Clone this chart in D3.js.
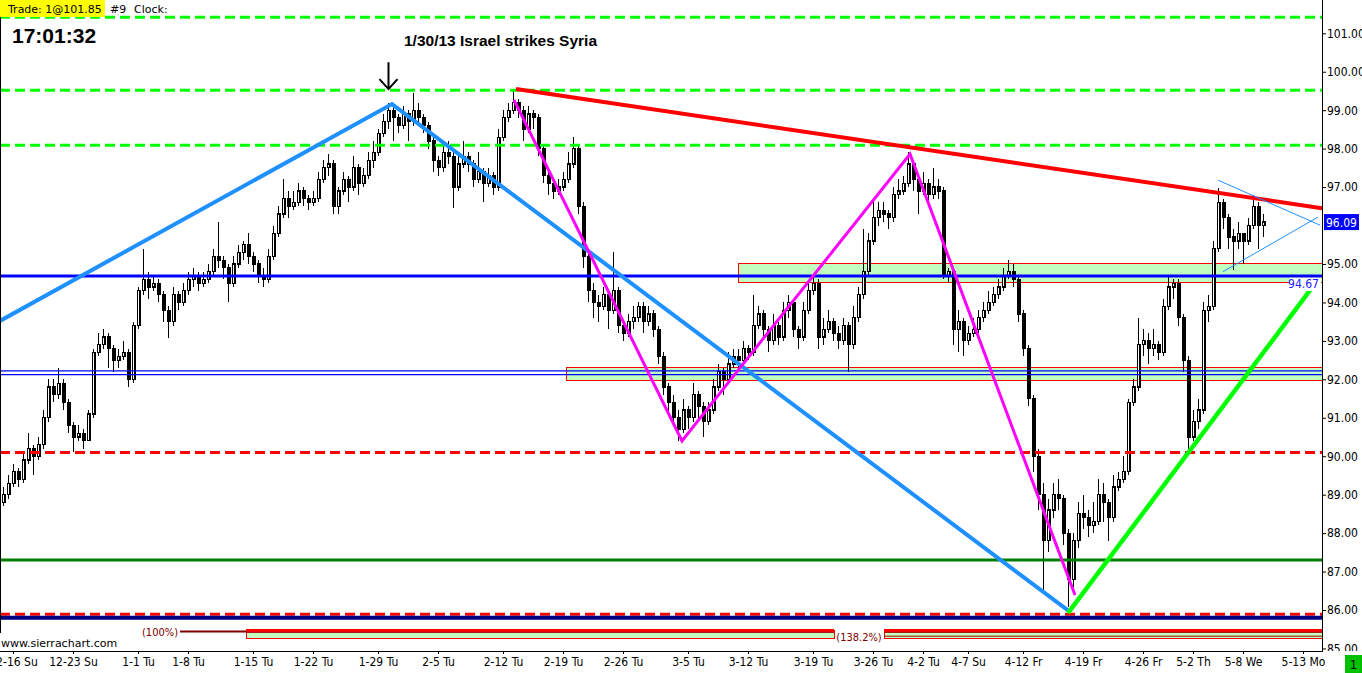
<!DOCTYPE html>
<html>
<head>
<meta charset="utf-8">
<script src="https://cdn.jsdelivr.net/npm/d3@7"></script>
<style>
  body { margin: 0; background: #fff; overflow: hidden; }
  svg { display: block; }
</style>
</head>
<body>
<div id="chart"></div>
<script>
// candle closes, one per bar (open = previous close)
var closes = [
  89.0, 89.3, 89.6, 89.4, 89.9, 90.2, 90.0, 90.3, 91.0, 91.8,
  91.6, 91.9, 91.4, 90.8, 90.5, 90.6, 90.4, 91.1, 92.7, 92.9,
  93.1, 92.8, 92.5, 92.6, 92.7, 92.0, 93.4, 94.3, 94.6, 94.4,
  94.5, 94.2, 93.8, 93.5, 94.2, 94.0, 94.3, 94.6, 94.7, 94.5,
  94.6, 94.8, 95.2, 95.1, 94.9, 94.5, 95.0, 95.3, 95.5, 95.2,
  95.0, 94.7, 94.6, 95.2, 95.8, 96.3, 96.7, 96.5, 96.6, 96.9,
  96.7, 96.6, 96.7, 97.2, 97.5, 97.6, 96.5, 96.9, 97.2, 97.0,
  97.5, 97.1, 97.3, 97.7, 97.9, 98.4, 98.7, 99.0, 98.8, 98.6,
  98.9, 98.7, 99.0, 98.8, 98.6, 98.2, 97.7, 97.5, 97.9, 97.8,
  97.0, 97.6, 97.8, 97.6, 97.2, 97.4, 97.1, 97.3, 97.0, 98.3,
  98.8, 99.0, 99.2, 99.0, 98.5, 98.9, 98.8, 98.0, 97.3, 97.1,
  96.9, 97.0, 97.2, 97.6, 98.0, 96.5, 95.2, 94.3, 94.0, 93.9,
  94.2, 93.8, 94.3, 93.4, 93.2, 93.5, 93.6, 93.9, 93.5, 93.7,
  93.3, 92.6, 91.8, 91.4, 91.0, 90.7, 91.2, 91.0, 91.6, 91.3,
  90.9, 91.2, 91.8, 92.2, 92.0, 92.4, 92.6, 92.5, 92.8, 92.7,
  93.4, 93.7, 93.3, 93.0, 93.4, 93.1, 93.8, 94.0, 93.3, 93.1,
  93.8, 94.3, 94.5, 93.1, 93.3, 93.5, 93.2, 93.0, 93.4, 92.9,
  93.6, 94.2, 94.8, 95.6, 96.2, 96.4, 96.3, 96.2, 96.8, 96.9,
  97.1, 97.6, 97.2, 96.9, 97.1, 96.8, 97.0, 96.9, 94.7, 94.8,
  93.3, 93.5, 93.0, 93.2, 93.3, 93.6, 93.8, 94.0, 94.2, 94.4,
  94.7, 94.8, 94.6, 93.7, 92.8, 91.5, 90.0, 89.0, 87.8, 88.6,
  89.0, 88.9, 88.0, 86.8, 87.8, 88.5, 88.4, 88.2, 88.3, 89.0,
  88.8, 88.4, 89.2, 89.4, 89.6, 91.4, 91.8, 92.9, 93.0, 92.8,
  92.9, 92.7, 93.9, 94.4, 94.5, 93.6, 92.5, 90.5, 90.9, 91.2,
  93.8, 93.9, 95.4, 96.6, 96.2, 95.7, 95.6, 95.8, 95.6, 96.0,
  96.5, 96.0, 96.09
];
var firstOpen = 88.8;

var highs = [
  89.2, 89.5, 89.8, 89.7, 90.1, 90.6, 90.3, 90.5, 91.2, 92.0,
  92.0, 92.3, 92.0, 91.5, 90.9, 90.8, 90.7, 91.2, 92.8, 93.2,
  93.3, 93.2, 92.9, 92.8, 93.0, 92.8, 93.5, 94.4, 95.4, 94.8,
  94.7, 94.6, 94.3, 93.9, 94.4, 94.3, 94.5, 94.8, 94.9, 94.8,
  94.8, 95.0, 95.4, 96.1, 95.2, 95.0, 95.2, 95.5, 95.6, 95.8,
  95.3, 95.1, 94.9, 95.4, 96.0, 96.5, 97.2, 96.9, 96.9, 97.1,
  97.0, 96.8, 96.9, 97.4, 97.7, 97.85, 97.7, 97.0, 97.4, 97.3,
  97.8, 97.6, 97.5, 97.9, 98.2, 98.5, 98.9, 99.2, 99.1, 98.9,
  99.1, 99.0, 99.45, 99.2, 98.9, 98.7, 98.3, 97.8, 98.1, 98.2,
  97.9, 97.8, 98.2, 97.9, 97.7, 97.9, 97.5, 97.5, 97.4, 98.5,
  99.0, 99.2, 99.5, 99.3, 99.1, 99.1, 99.0, 98.9, 98.1, 97.4,
  97.2, 97.2, 97.4, 97.9, 98.3, 98.1, 96.6, 95.3, 94.5, 94.2,
  94.4, 94.3, 95.3, 94.4, 93.5, 93.7, 93.9, 94.0, 94.0, 93.9,
  93.8, 93.4, 92.7, 91.9, 91.6, 91.2, 91.5, 91.3, 91.9, 91.7,
  91.4, 91.4, 92.0, 92.4, 92.3, 92.7, 92.8, 92.8, 93.0, 92.9,
  94.2, 93.9, 93.8, 93.4, 93.7, 93.5, 94.0, 94.2, 94.1, 93.4,
  94.0, 94.5, 94.7, 94.6, 93.6, 93.8, 93.6, 93.4, 93.6, 93.5,
  93.9, 94.4, 95.9, 95.8, 96.6, 96.6, 96.6, 96.4, 97.0, 97.2,
  97.3, 97.9, 97.7, 97.3, 97.4, 97.2, 97.5, 97.2, 97.0, 94.9,
  94.9, 93.8, 93.6, 93.4, 93.6, 93.8, 94.0, 94.3, 94.4, 94.6,
  94.9, 95.1, 95.0, 94.7, 93.8, 92.9, 91.6, 90.2, 89.3, 88.9,
  89.3, 89.4, 89.0, 88.1, 88.0, 88.8, 89.0, 88.6, 88.8, 89.4,
  89.3, 88.9, 89.5, 89.6, 90.0, 91.5, 92.0, 93.6, 93.3, 93.2,
  93.3, 93.0, 94.1, 94.65, 94.6, 94.6, 93.7, 92.6, 91.2, 91.5,
  94.0, 94.2, 95.6, 96.97, 96.7, 96.3, 95.9, 96.1, 95.8, 96.2,
  96.8, 96.6, 96.3
];

var lows = [
  88.7, 88.9, 89.2, 89.2, 89.3, 89.8, 89.5, 89.9, 90.2, 90.9,
  91.4, 91.5, 91.2, 90.6, 90.1, 90.4, 90.2, 90.4, 91.0, 92.6,
  92.8, 92.3, 92.2, 92.3, 92.5, 91.8, 91.9, 93.3, 94.2, 94.1,
  94.3, 94.0, 93.5, 93.07, 93.4, 93.8, 93.9, 94.2, 94.4, 94.3,
  94.4, 94.5, 94.7, 94.9, 94.6, 94.0, 94.4, 94.9, 95.1, 95.0,
  94.8, 94.5, 94.4, 94.5, 95.1, 95.7, 96.2, 96.2, 96.4, 96.5,
  96.5, 96.4, 96.5, 96.6, 97.1, 97.3, 96.3, 96.3, 96.8, 96.6,
  96.9, 96.8, 97.0, 97.2, 97.5, 97.8, 98.3, 98.5, 98.2, 98.4,
  98.5, 98.2, 98.6, 98.6, 98.4, 98.0, 97.4, 97.3, 97.4, 97.6,
  96.45, 96.9, 97.5, 97.4, 97.0, 97.1, 96.6, 97.0, 96.8, 96.9,
  98.2, 98.7, 98.9, 98.8, 98.2, 98.4, 98.5, 97.8, 97.1, 96.8,
  96.7, 96.8, 96.9, 97.1, 97.5, 96.3, 94.9, 94.0, 93.6, 93.5,
  93.8, 93.3, 93.7, 93.2, 93.0, 93.1, 93.3, 93.5, 93.2, 93.4,
  93.1, 92.4, 91.6, 91.1, 90.8, 90.4, 90.6, 90.7, 90.9, 91.0,
  90.5, 90.8, 91.1, 91.7, 91.6, 91.9, 92.3, 92.2, 92.4, 92.5,
  92.6, 93.3, 93.1, 92.7, 92.9, 92.9, 93.0, 93.6, 93.1, 92.8,
  93.0, 93.7, 94.2, 92.8, 92.9, 93.2, 93.0, 92.8, 92.9, 92.2,
  92.8, 93.5, 94.1, 94.7, 95.5, 96.0, 96.1, 95.9, 96.1, 96.7,
  96.8, 97.0, 96.9, 96.3, 96.8, 96.6, 96.7, 96.7, 94.6, 94.5,
  92.9, 92.7, 92.6, 92.9, 93.1, 93.2, 93.5, 93.7, 93.9, 94.1,
  94.3, 94.6, 94.4, 93.5, 92.6, 91.3, 89.6, 88.6, 86.5, 87.5,
  88.4, 88.6, 87.7, 86.08, 86.6, 87.6, 88.1, 87.9, 88.0, 88.2,
  88.3, 87.8, 88.3, 89.1, 89.3, 89.5, 91.3, 91.7, 92.6, 92.4,
  92.6, 92.5, 92.6, 93.8, 94.1, 93.4, 92.2, 90.2, 90.4, 90.7,
  91.1, 93.5, 93.8, 95.3, 95.9, 95.4, 94.85, 95.4, 95.0, 95.5,
  95.9, 95.4, 95.7
];

// x axis: bar index of each date label
var dateTickIdx = [2, 14, 27, 37, 50, 62, 75, 87, 100, 112, 124, 137, 149,
                   162, 174, 184, 193, 204, 216, 228, 238, 248, 260];
var dateTickLabels = ["12-16 Su", "12-23 Su", "1-1 Tu", "1-8 Tu", "1-15 Tu", "1-22 Tu",
                      "1-29 Tu", "2-5 Tu", "2-12 Tu", "2-19 Tu", "2-26 Tu", "3-5 Tu",
                      "3-12 Tu", "3-19 Tu", "3-26 Tu", "4-2 Tu", "4-7 Su", "4-12 Fr",
                      "4-19 Fr", "4-26 Fr", "5-2 Th", "5-8 We", "5-13 Mo"];
// 96.00 sits under the last price tag, so it is not listed
var priceTicks = [85, 86, 87, 88, 89, 90, 91, 92, 93, 94, 95, 97, 98, 99, 100, 101];

// horizontal levels
var greenDashLevels = [101.42, 99.52, 98.09];
var redDashLevels = [90.10, 85.89];
var navyLevel = 85.80;
var greenLevel = 87.30;
var blueLevel = 94.69;
var thinBlueLevels = [92.22, 92.12];

// drawn trend lines, [bar index, price]
var blueTrend = [[-0.6, 93.52], [77.8, 99.16], [213, 85.99]];
var magentaTrend = [[102.2, 99.27], [135.8, 90.40], [181.4, 97.86], [214.4, 86.39]];
var redTrend = [[102.6, 99.55], [263.8, 96.45]];
var greenTrend = [[213, 85.92], [261.6, 94.35]];
var triUpper = [[243, 97.18], [263.4, 96.01]];
var triLower = [[244, 94.80], [263, 96.22]];

// supply / demand zones
var zoneStart = [147, 112.6];
var zoneEnd = [263.8, 263.8];
var zoneTop = [95.00, 92.31];
var zoneBottom = [94.53, 91.97];

// fib extension boxes at the bottom
var fibStart = [48.6, 176.2];
var fibEnd = [166.2, 263.8];
var fibTop = 85.47, fibMid = 85.32, fibBottom = 85.25;
var fib100Start = 35.4, fib100Price = 85.44;

var lastPrice = 96.09;
var levelLabel = 94.67;

var W = 1362, H = 673, plotR = 1322, plotB = 651;

var x = d3.scaleLinear().domain([0, 252]).range([3, 1263]);
var y = d3.scaleLinear().domain([84.934, 101.866]).range([plotB, 0]);

var svg = d3.select("#chart").append("svg")
    .attr("width", W)
    .attr("height", H)
    .style("font-family", "'DejaVu Sans Condensed', 'DejaVu Sans', sans-serif");

var defs = svg.append("defs");
defs.append("clipPath").attr("id", "plot")
  .append("rect").attr("x", 0).attr("y", 0).attr("width", plotR).attr("height", plotB);
// used inside the translated y axis group, so it starts at 0
defs.append("clipPath").attr("id", "yaxis")
  .append("rect").attr("x", 0).attr("y", 0).attr("width", W - plotR).attr("height", plotB);

var plot = svg.append("g").attr("clip-path", "url(#plot)");

// zones under the price bars
zoneStart.forEach(function(s, i){
  plot.append("rect")
    .attr("x", x(s))
    .attr("y", y(zoneTop[i]))
    .attr("width", x(zoneEnd[i]) - x(s))
    .attr("height", y(zoneBottom[i]) - y(zoneTop[i]))
    .attr("fill", "#c0ffc0")
    .attr("stroke", "#ff0000")
    .attr("stroke-width", 1)
    .attr("shape-rendering", "crispEdges");
});

fibStart.forEach(function(s, i){
  plot.append("rect")
    .attr("x", x(s))
    .attr("y", y(fibTop))
    .attr("width", x(fibEnd[i]) - x(s))
    .attr("height", y(fibBottom) - y(fibTop))
    .attr("fill", "#c0ffc0")
    .attr("stroke", "#ff0000")
    .attr("stroke-width", 1)
    .attr("shape-rendering", "crispEdges");
  plot.append("line")
    .attr("x1", x(s)).attr("x2", x(fibEnd[i]))
    .attr("y1", y(fibTop)).attr("y2", y(fibTop))
    .attr("stroke", "#ff0000").attr("stroke-width", 3);
  plot.append("line")
    .attr("x1", x(s)).attr("x2", x(fibEnd[i]))
    .attr("y1", y(fibTop) + 2).attr("y2", y(fibTop) + 2)
    .attr("stroke", "#a00000").attr("stroke-width", 1);
  if (i == 1) {
    plot.append("line")
      .attr("x1", x(s)).attr("x2", x(fibEnd[i]))
      .attr("y1", y(fibMid)).attr("y2", y(fibMid))
      .attr("stroke", "#a00000").attr("stroke-width", 1);
  }
});
plot.append("line")
  .attr("x1", x(fib100Start)).attr("x2", x(fibStart[0]))
  .attr("y1", y(fib100Price)).attr("y2", y(fib100Price))
  .attr("stroke", "#800000").attr("stroke-width", 2);

// candles
var candles = plot.append("g").attr("shape-rendering", "crispEdges");
closes.forEach(function(c, i){
  var o = i == 0 ? firstOpen : closes[i - 1];
  var cx = Math.round(x(i));
  candles.append("line")
    .attr("x1", cx + 0.5).attr("x2", cx + 0.5)
    .attr("y1", y(highs[i])).attr("y2", y(lows[i]))
    .attr("stroke", "#000").attr("stroke-width", 1);
  var top = y(Math.max(o, c)), bot = y(Math.min(o, c));
  candles.append("rect")
    .attr("x", cx - 0.5)
    .attr("y", top)
    .attr("width", 2.5)
    .attr("height", Math.max(1, bot - top))
    .attr("fill", c >= o ? "#fff" : "#000")
    .attr("stroke", "#000")
    .attr("stroke-width", 1.2);
});

// horizontal levels
function hline(price, color, width, dash){
  var l = plot.append("line")
    .attr("x1", 0).attr("x2", plotR)
    .attr("y1", y(price)).attr("y2", y(price))
    .attr("stroke", color)
    .attr("stroke-width", width);
  if (dash) l.attr("stroke-dasharray", dash);
}
greenDashLevels.forEach(function(p){ hline(p, "#00ff00", 3, "10,5"); });
redDashLevels.forEach(function(p){ hline(p, "#ff0000", 3, "10,5"); });
hline(navyLevel, "#000080", 4);
hline(greenLevel, "#008000", 3);
hline(blueLevel, "#0000ff", 3);
thinBlueLevels.forEach(function(p){ hline(p, "#0000ff", 1.3); });

// trend lines
var line = d3.line().x(function(d){ return x(d[0]); }).y(function(d){ return y(d[1]); });
function trend(pts, color, width){
  plot.append("path")
    .attr("d", line(pts))
    .attr("fill", "none")
    .attr("stroke", color)
    .attr("stroke-width", width)
    .attr("stroke-linejoin", "miter");
}
trend(blueTrend, "#1e90ff", 4);
trend(redTrend, "#ff0000", 4);
trend(magentaTrend, "#ff00ff", 3);
trend(greenTrend, "#00ff00", 4.5);
trend(triUpper, "#1e90ff", 1);
trend(triLower, "#1e90ff", 1);

// labels on the bottom boxes
svg.append("text")
  .attr("x", x(fib100Start) - 2).attr("y", y(fib100Price) + 4)
  .attr("text-anchor", "end")
  .attr("font-size", 11).attr("fill", "#800000")
  .text("(100%)");
svg.append("text")
  .attr("x", (x(fibEnd[0]) + x(fibStart[1])) / 2).attr("y", y(fibMid) + 5)
  .attr("text-anchor", "middle")
  .attr("font-size", 11).attr("fill", "#800000")
  .text("(138.2%)");

// event arrow and note
var ax = Math.round(x(77)) + 0.5;
svg.append("path")
  .attr("d", "M" + ax + "," + y(100.25) + "V" + y(99.55) +
             "M" + (ax - 9) + "," + (y(99.55) - 10) + "L" + ax + "," + y(99.55) +
             "L" + (ax + 9) + "," + (y(99.55) - 10))
  .attr("fill", "none").attr("stroke", "#000").attr("stroke-width", 2);
svg.append("text")
  .attr("x", 404).attr("y", 46)
  .attr("font-family", "'Liberation Sans Narrow', 'Liberation Sans', sans-serif")
  .attr("font-weight", "bold").attr("font-size", 15.5)
  .text("1/30/13 Israel strikes Syria");

// left border
svg.append("line")
  .attr("x1", 0.5).attr("x2", 0.5).attr("y1", 0).attr("y2", 633)
  .attr("stroke", "#000").attr("stroke-width", 1);

// y axis
var yAxis = svg.append("g")
  .attr("transform", "translate(" + plotR + ",0)")
  .attr("clip-path", "url(#yaxis)")
  .call(d3.axisRight(y).tickValues(priceTicks).tickFormat(d3.format(".2f"))
          .tickSize(4).tickSizeOuter(0).tickPadding(1));
yAxis.select(".domain").remove();
yAxis.selectAll("text").attr("font-size", 12).attr("fill", "#000")
  .attr("font-family", "'DejaVu Sans Condensed', sans-serif");
yAxis.selectAll("line").attr("stroke", "#000");
svg.append("line")
  .attr("x1", plotR + 0.5).attr("x2", plotR + 0.5).attr("y1", 0).attr("y2", plotB)
  .attr("stroke", "#000");

// x axis
var xAxis = svg.append("g")
  .attr("transform", "translate(0," + plotB + ")")
  .call(d3.axisBottom(x).tickValues(dateTickIdx)
          .tickFormat(function(d, i){ return dateTickLabels[i]; })
          .tickSize(3).tickSizeOuter(0).tickPadding(3));
xAxis.select(".domain").remove();
xAxis.selectAll("text").attr("font-size", 12).attr("fill", "#000")
  .attr("font-family", "'DejaVu Sans Condensed', sans-serif");
xAxis.selectAll("line").attr("stroke", "#000");
svg.append("line")
  .attr("x1", 0).attr("x2", plotR + 1).attr("y1", plotB + 0.5).attr("y2", plotB + 0.5)
  .attr("stroke", "#000");

// last price tag
svg.append("rect")
  .attr("x", plotR + 2).attr("y", y(lastPrice) - 8)
  .attr("width", 35).attr("height", 16)
  .attr("fill", "#0000ff");
svg.append("text")
  .attr("x", plotR + 4).attr("y", y(lastPrice) + 4.5)
  .attr("font-size", 12).attr("fill", "#fff")
  .text(lastPrice.toFixed(2));

// level value tag
svg.append("rect")
  .attr("x", 1290).attr("y", y(blueLevel) + 2)
  .attr("width", 31).attr("height", 13)
  .attr("fill", "#fff");
svg.append("text")
  .attr("x", 1319).attr("y", y(blueLevel) + 12)
  .attr("text-anchor", "end")
  .attr("font-size", 12).attr("fill", "#2020ff")
  .text(levelLabel.toFixed(2));

// header texts
svg.append("rect")
  .attr("x", 0).attr("y", 0).attr("width", 105).attr("height", 17)
  .attr("fill", "#ffff00");
svg.append("text")
  .attr("x", 8).attr("y", 13)
  .attr("font-family", "'DejaVu Sans', sans-serif").attr("font-size", 11)
  .text("Trade: 1@101.85");
svg.append("text")
  .attr("x", 110).attr("y", 13)
  .attr("font-family", "'DejaVu Sans', sans-serif").attr("font-size", 11)
  .text("#9");
svg.append("text")
  .attr("x", 134).attr("y", 13)
  .attr("font-family", "'DejaVu Sans', sans-serif").attr("font-size", 11)
  .text("Clock:");
svg.append("text")
  .attr("x", 12).attr("y", 43)
  .attr("font-family", "'Liberation Sans', Arial, sans-serif")
  .attr("font-weight", "bold").attr("font-size", 21)
  .text("17:01:32");

svg.append("text")
  .attr("x", 1).attr("y", 647)
  .attr("font-family", "'DejaVu Sans', sans-serif").attr("font-size", 11)
  .text("www.sierrachart.com");

// bottom right box
svg.append("rect")
  .attr("x", 1345).attr("y", 655).attr("width", 17).attr("height", 18)
  .attr("fill", "#00c000");
svg.append("text")
  .attr("x", 1353.5).attr("y", 669)
  .attr("text-anchor", "middle")
  .attr("font-size", 13).attr("fill", "#000")
  .text("1");
</script>
</body>
</html>
